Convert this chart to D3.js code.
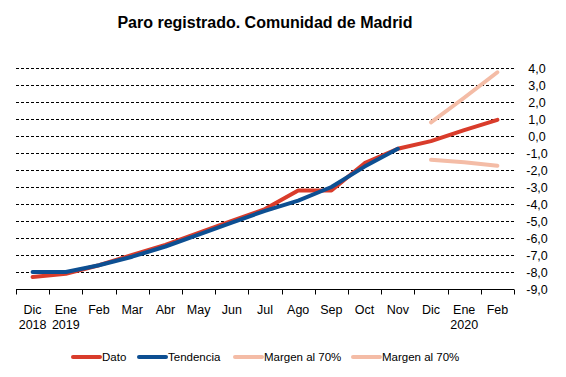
<!DOCTYPE html>
<html lang="es">
<head>
<meta charset="utf-8">
<script src="https://d3js.org/d3.v7.min.js"></script>
<style>
  body { margin: 0; background: #fff; }
  svg { display: block; font-family: Arial, "Liberation Sans", sans-serif; }
</style>
</head>
<body>
<div id="chart"></div>
<script>
// month labels (two lines)
const months = ["Dic", "Ene", "Feb", "Mar", "Abr", "May", "Jun", "Jul", "Ago", "Sep", "Oct", "Nov", "Dic", "Ene", "Feb"];
const years  = ["2018", "2019", "", "", "", "", "", "", "", "", "", "", "", "2020", ""];

// series (null = no value)
const dato       = [-8.3, -8.1, -7.6, -7.0, -6.4, -5.7, -5.0, -4.3, -3.2, -3.2, -1.6, -0.75, -0.3, 0.35, 0.95];
const tendencia  = [-8.0, -8.0, -7.6, -7.1, -6.5, -5.8, -5.1, -4.4, -3.8, -3.0, -1.8, -0.75, null, null, null];
const margenSup  = [null, null, null, null, null, null, null, null, null, null, null, null, 0.8, 2.25, 3.75];
const margenInf  = [null, null, null, null, null, null, null, null, null, null, null, null, -1.4, -1.55, -1.75];

const yTicks = [4, 3, 2, 1, 0, -1, -2, -3, -4, -5, -6, -7, -8, -9];

const width = 566, height = 377;
const svg = d3.select("#chart").append("svg")
    .attr("width", width).attr("height", height);

const x = d3.scaleBand().domain(d3.range(months.length)).range([16, 514]);
const y = d3.scaleLinear().domain([-9, 4]).range([289, 68]);
const cx = i => x(i) + x.bandwidth() / 2;

// title
svg.append("text")
    .attr("x", 265).attr("y", 28)
    .attr("text-anchor", "middle")
    .attr("font-size", 16).attr("font-weight", "bold")
    .text("Paro registrado. Comunidad de Madrid");

// gridlines
svg.append("g").selectAll("line")
  .data(yTicks.filter(d => d > -9))
  .join("line")
    .attr("x1", 16).attr("x2", 514)
    .attr("y1", d => Math.round(y(d)) + 0.5).attr("y2", d => Math.round(y(d)) + 0.5)
    .attr("stroke", "#000").attr("stroke-width", 1)
    .attr("stroke-dasharray", "3,2");

// y labels on the right
svg.append("g").selectAll("text")
  .data(yTicks)
  .join("text")
    .attr("x", 537).attr("y", d => y(d) + 4.5)
    .attr("text-anchor", "middle")
    .attr("font-size", 12.5)
    .text(d => d3.format(".1f")(d).replace(".", ",").replace("−", "-"));

// x axis line + ticks at band boundaries
const axisY = Math.round(y(-9)) + 0.5;
svg.append("line")
    .attr("x1", 16).attr("x2", 514)
    .attr("y1", axisY).attr("y2", axisY)
    .attr("stroke", "#000");
svg.append("g").selectAll("line")
  .data(d3.range(months.length + 1))
  .join("line")
    .attr("x1", i => Math.round(i < months.length ? x(i) : x.range()[1]) + 0.5)
    .attr("x2", i => Math.round(i < months.length ? x(i) : x.range()[1]) + 0.5)
    .attr("y1", axisY).attr("y2", axisY + 5)
    .attr("stroke", "#000");

const xl = svg.append("g").attr("font-size", 12.5).attr("text-anchor", "middle");
xl.selectAll("text.m").data(months).join("text")
    .attr("class", "m")
    .attr("x", (d, i) => cx(i)).attr("y", 314)
    .text(d => d);
xl.selectAll("text.yr").data(years).join("text")
    .attr("class", "yr")
    .attr("x", (d, i) => cx(i)).attr("y", 329)
    .text(d => d);

// lines
const line = d3.line()
    .defined(d => d != null)
    .x((d, i) => cx(i))
    .y(d => y(d));

const series = [
  { name: "Margen al 70%", values: margenSup, color: "#f4bca6" },
  { name: "Margen al 70%", values: margenInf, color: "#f4bca6" },
  { name: "Dato", values: dato, color: "#d93c2b" },
  { name: "Tendencia", values: tendencia, color: "#0d4f92" }
];

svg.append("g").selectAll("path")
  .data(series)
  .join("path")
    .attr("d", d => line(d.values))
    .attr("fill", "none")
    .attr("stroke", d => d.color)
    .attr("stroke-width", 4)
    .attr("stroke-linecap", "round")
    .attr("stroke-linejoin", "round");

// legend
const legendItems = [
  { name: "Dato", color: "#d93c2b", x: 73 },
  { name: "Tendencia", color: "#0d4f92", x: 139 },
  { name: "Margen al 70%", color: "#f4bca6", x: 235 },
  { name: "Margen al 70%", color: "#f4bca6", x: 353 }
];
const lg = svg.append("g");
const li = lg.selectAll("g").data(legendItems).join("g")
    .attr("transform", d => `translate(${d.x},357)`);
li.append("line")
    .attr("x1", 0).attr("x2", 27)
    .attr("stroke", d => d.color).attr("stroke-width", 4)
    .attr("stroke-linecap", "round");
li.append("text")
    .attr("x", 29).attr("y", 4)
    .attr("font-size", 11.5)
    .text(d => d.name);
</script>
</body>
</html>
